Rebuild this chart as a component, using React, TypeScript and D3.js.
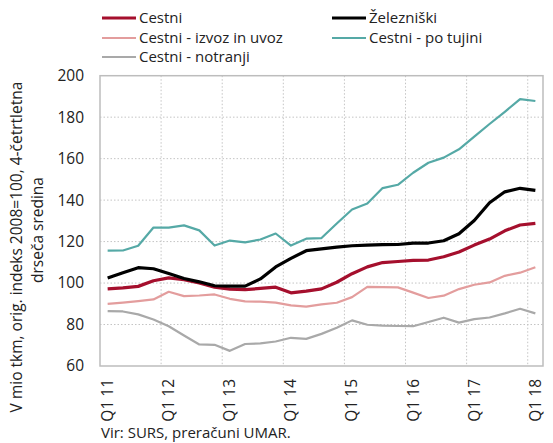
import React from 'react';
import * as d3 from 'd3';

const quarters = [
  'Q1 11', 'Q2 11', 'Q3 11', 'Q4 11',
  'Q1 12', 'Q2 12', 'Q3 12', 'Q4 12',
  'Q1 13', 'Q2 13', 'Q3 13', 'Q4 13',
  'Q1 14', 'Q2 14', 'Q3 14', 'Q4 14',
  'Q1 15', 'Q2 15', 'Q3 15', 'Q4 15',
  'Q1 16', 'Q2 16', 'Q3 16', 'Q4 16',
  'Q1 17', 'Q2 17', 'Q3 17', 'Q4 17',
  'Q1 18',
];
const tickLabels = ['Q1 11', 'Q1 12', 'Q1 13', 'Q1 14', 'Q1 15', 'Q1 16', 'Q1 17', 'Q1 18'];
const yTicks = [60, 80, 100, 120, 140, 160, 180, 200];

const cestni = [97.2, 97.7, 98.4, 101.1, 102.5, 101.6, 100.1, 98.0, 97.1, 96.8, 97.4, 98.0, 95.3, 96.1, 97.2, 100.4, 104.5, 107.8, 109.9, 110.4, 110.9, 111.1, 112.7, 115.0, 118.3, 121.2, 125.2, 128.0, 128.8];
const zelezniski = [102.4, 105.0, 107.4, 106.9, 104.6, 102.2, 100.6, 98.7, 98.5, 98.5, 102.0, 107.8, 111.9, 115.6, 116.5, 117.3, 118.0, 118.3, 118.5, 118.6, 119.3, 119.3, 120.4, 123.8, 130.2, 138.7, 144.0, 145.7, 144.7];
const izvozUvoz = [90.0, 90.6, 91.3, 92.1, 95.8, 93.7, 94.0, 94.5, 92.4, 91.2, 91.0, 90.6, 89.2, 88.6, 89.7, 90.5, 93.2, 98.2, 98.0, 97.9, 95.4, 92.8, 93.9, 97.1, 99.2, 100.3, 103.5, 105.0, 107.6];
const poTujini = [115.6, 115.7, 118.0, 126.8, 126.7, 127.8, 125.4, 118.1, 120.5, 119.6, 121.0, 123.9, 118.1, 121.4, 121.7, 128.7, 135.5, 138.4, 145.8, 147.4, 153.2, 158.0, 160.5, 164.5, 170.6, 176.7, 182.6, 188.7, 187.8];
const notranji = [86.5, 86.3, 84.9, 82.4, 79.2, 74.7, 70.4, 70.2, 67.3, 70.6, 70.9, 71.8, 73.6, 73.1, 75.5, 78.4, 82.0, 79.9, 79.5, 79.3, 79.2, 81.2, 83.3, 80.9, 82.6, 83.4, 85.4, 87.6, 85.4];

const series = [
  { name: 'Cestni', values: cestni, color: '#a50f2d', width: 3.2 },
  { name: 'Železniški', values: zelezniski, color: '#000000', width: 3.2 },
  { name: 'Cestni - izvoz in uvoz', values: izvozUvoz, color: '#e39d9d', width: 2.2 },
  { name: 'Cestni - po tujini', values: poTujini, color: '#55a9a6', width: 2.2 },
  { name: 'Cestni - notranji', values: notranji, color: '#a9a9a9', width: 2.2 },
];

// draw order: lighter lines underneath
const drawOrder = [4, 2, 3, 0, 1];

const FONT = '"Open Sans", sans-serif';

const App = () => {
  const left = 100, right = 543, top = 75.7, bottom = 366;

  const x = d3.scaleBand<string>().domain(quarters).range([left, right]).padding(0);
  const y = d3.scaleLinear().domain([60, 200]).range([bottom, top]);
  const bw = x.bandwidth();
  const cx = (q: string) => (x(q) as number) + bw / 2;

  const line = d3.line<number>()
    .x((_, i) => cx(quarters[i]))
    .y(d => y(d));

  // year boundaries for vertical gridlines
  const yearBounds = tickLabels.slice(1).map(t => x(t) as number);

  const legend = [
    { s: 0, lx: 102, ty: 18 },
    { s: 1, lx: 332, ty: 18 },
    { s: 2, lx: 102, ty: 38 },
    { s: 3, lx: 332, ty: 38 },
    { s: 4, lx: 102, ty: 57 },
  ];

  return (
    <svg width={553} height={443} style={{ position: 'absolute', left: 0, top: 0, background: '#fff' }}
      fontFamily={FONT}>
      {/* grid */}
      <g stroke="#c4c4c4" strokeWidth={1} strokeDasharray="1.5,2">
        {yTicks.slice(1, -1).map(t => (
          <line key={t} x1={left} x2={right} y1={y(t)} y2={y(t)} />
        ))}
        {yearBounds.map((b, i) => (
          <line key={i} x1={b} x2={b} y1={top} y2={bottom} />
        ))}
      </g>
      <rect x={left} y={top} width={right - left} height={bottom - top} fill="none" stroke="#bdbdbd" strokeWidth={1.5} />

      {/* series */}
      {drawOrder.map(i => (
        <path key={series[i].name} d={line(series[i].values) || ''} fill="none"
          stroke={series[i].color} strokeWidth={series[i].width} strokeLinejoin="round" />
      ))}

      {/* y ticks */}
      {yTicks.map(t => (
        <text key={t} x={84} y={y(t)} dy="0.35em" textAnchor="end" fontSize={15.5} fill="#222">{t}</text>
      ))}

      {/* x ticks */}
      {tickLabels.map(t => (
        <text key={t} transform={`translate(${cx(t)},379) rotate(-90)`} dy="0.35em" textAnchor="end"
          fontSize={15.5} fill="#222">{t}</text>
      ))}

      {/* y axis title */}
      <text transform="translate(17,247) rotate(-90)" dy="0.35em" textAnchor="middle" fontSize={15.5} fill="#222">
        V mio tkm, orig. indeks 2008=100, 4-četrtletna
      </text>
      <text transform="translate(38,230) rotate(-90)" dy="0.35em" textAnchor="middle" fontSize={15.5} fill="#222">
        drseča sredina
      </text>

      {/* legend */}
      {legend.map(l => (
        <g key={l.s}>
          <line x1={l.lx} x2={l.lx + 34} y1={l.ty} y2={l.ty} stroke={series[l.s].color} strokeWidth={series[l.s].width} />
          <text x={l.lx + 37} y={l.ty} dy="0.35em" fontSize={15} fill="#222">{series[l.s].name}</text>
        </g>
      ))}

      {/* source */}
      <text x={101} y={438} fontSize={15} fill="#222">Vir: SURS, preračuni UMAR.</text>
    </svg>
  );
};

export default App;
